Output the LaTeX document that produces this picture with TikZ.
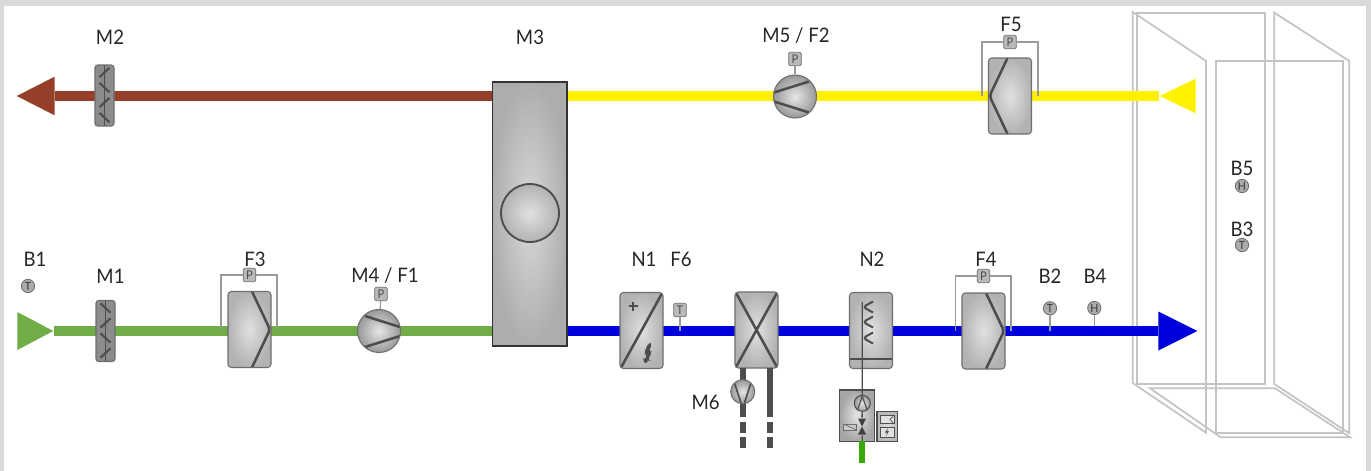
\documentclass[tikz,border=0pt]{standalone}
\usepackage{fontspec}
\setmainfont{Lato}[FakeStretch=0.93]
\usetikzlibrary{positioning, calc, backgrounds, shapes.geometric}

\definecolor{framegray}{HTML}{D9DADC}
\definecolor{roomgray}{HTML}{C4C4C4}
\definecolor{strokegray}{HTML}{4D4D4D}
\definecolor{edgegray}{HTML}{6E6E6E}
\definecolor{sensgray}{HTML}{9A9A9A}
\definecolor{exhaustred}{HTML}{953F2A}
\definecolor{intakegreen}{HTML}{70AD47}
\definecolor{extractyellow}{HTML}{FFF200}
\definecolor{supplyblue}{HTML}{0000DD}
\definecolor{watergreen}{HTML}{39A800}

\tikzset{
    lbl/.style={font=\fontsize{15}{15}\selectfont, text=black!85, inner sep=0pt},
    duct/.style={line width=7.5pt},
    room/.style={draw=roomgray, line width=1.3pt},
    sens/.style={draw=sensgray, line width=0.9pt},
    glyph/.style={draw=strokegray, line width=1.9pt},
    unit/.style={draw=edgegray, line width=0.8pt, rounded corners=2.5pt, inner sep=0pt,
        minimum width=32.25pt, minimum height=57pt,
        inner color=black!12, outer color=black!30},
    filterR/.style={unit, path picture={
        \draw[glyph, shift={(path picture bounding box.center)}] (2.5,-38) -- (20.5,0) -- (2.5,38);}},
    filterL/.style={unit, path picture={
        \draw[glyph, shift={(path picture bounding box.center)}] (-2.5,-38) -- (-20.5,0) -- (-2.5,38);}},
    arrowhd/.style={isosceles triangle, isosceles triangle stretches, inner sep=0pt,
        anchor=apex, minimum width=29pt, minimum height=28pt},
    fanbody/.style={circle, draw=edgegray, line width=0.8pt, inner sep=0pt, minimum size=32.25pt,
        inner color=black!10, outer color=black!40},
    fanR/.style={fanbody, path picture={
        \draw[glyph, shift={(path picture bounding box.center)}] (-14,-15) -- (21,-4) (-14,16) -- (21,5);}},
    fanL/.style={fanbody, path picture={
        \draw[glyph, shift={(path picture bounding box.center)}] (14,-15) -- (-21,-4) (14,16) -- (-21,5);}},
    damper/.style={draw=edgegray, line width=0.8pt, rounded corners=2pt, inner sep=0pt,
        minimum width=14.25pt, minimum height=45.75pt,
        left color=black!45, middle color=black!22, right color=black!45,
        path picture={
        \draw[draw=strokegray, line width=0.6pt, shift={(path picture bounding box.center)}] (0,-31) -- (0,31);
        \foreach \bladey/\bladesign in {-23/1,-8/-1,7/1,22/-1}
            \draw[draw=strokegray, line width=1.6pt, shift={(path picture bounding box.center)}]
            (-5,{\bladey+4.7*#1*\bladesign}) -- (5,{\bladey-4.7*#1*\bladesign});}},
    pbox/.style={draw=edgegray, line width=0.6pt, rounded corners=1pt, fill=black!27, inner sep=0pt,
        minimum width=9.5pt, minimum height=10pt, font=\fontsize{9}{9}\selectfont, text=black!70},
    sball/.style={circle, draw=edgegray, line width=0.6pt, fill=black!33, inner sep=0pt,
        minimum size=10pt, font=\fontsize{8.5}{8.5}\selectfont, text=black!80},
    pipe/.style={draw=strokegray, line width=4.5pt},
}

\begin{document}
\begin{tikzpicture}[x=0.75pt,y=-0.75pt]
    \useasboundingbox (0,0) rectangle (1371,471);

    \node[arrowhd, fill=exhaustred, shape border rotate=180, minimum width=29pt, minimum height=28.5pt] (exh) at (16,96) {};
    \node[arrowhd, fill=intakegreen, minimum width=28.5pt, minimum height=27pt] (ink) at (54,331) {};
    \node[arrowhd, fill=extractyellow, shape border rotate=180, minimum width=26pt, minimum height=27pt] (ext) at (1159,96) {};
    \node[arrowhd, fill=supplyblue, minimum width=29.25pt, minimum height=29.25pt] (sup) at (1198,331) {};

    \node[draw=black!80, line width=1pt, inner sep=0pt, minimum width=56pt, minimum height=198pt,
        inner color=black!15, outer color=black!32] (m3) at (529.5,214) {};
    \node[circle, draw=strokegray, line width=1.4pt, inner sep=0pt, minimum size=43.5pt,
        inner color=black!12, outer color=black!30] (wheel) at (530,213) {};

    \node[damper=1] (m2) at (104.5,95.5) {};
    \node[damper=-1] (m1) at (105.5,331) {};

    \node[filterR] (f3) at (249.5,329.5) {};
    \node[filterL] (f5) at (1010,96) {};
    \node[filterR] (f4) at (983.5,331) {};
    \node[fanR] (m4) at (379,331) {};
    \node[fanL] (m5) at (795,96.5) {};

    \node[unit, path picture={
        \draw[glyph, shift={(path picture bounding box.center)}] (21,-38) -- (-21,38);
        \draw[draw=strokegray, line width=1.5pt, shift={(path picture bounding box.center)}] (-13,-24.5) -- (-3.5,-24.5) (-8.3,-29) -- (-8.3,-20);
        \fill[strokegray, shift={(path picture bounding box.center)}] (7,12) -- (2,24) -- (6,24) -- (3,30) -- (1,28) -- (3,34) -- (8,30) -- (6,30) -- (11,21) -- (7,21) -- (11,13) -- cycle;}] (n1) at (641.5,330.5) {};
    \node[unit, path picture={
        \draw[glyph, shift={(path picture bounding box.center)}] (-21,-38) -- (21,38) (21,-38) -- (-21,38);}] (coil) at (756.5,330) {};
    \node[unit, path picture={
        \draw[glyph, shift={(path picture bounding box.center)}] (-21,28.5) -- (21,28.5);
        \draw[draw=strokegray, line width=1.5pt, shift={(path picture bounding box.center)}]
            (2,-29) -- (-8,-23.5) -- (2,-18) (2,-14) -- (-8,-8.5) -- (2,-3) (2,2) -- (-8,7.5) -- (2,13);}] (n2) at (871,330.5) {};

    \node[pbox] (pF3) at (249.5,275) {P};
    \node[pbox] (pM4) at (381,294) {P};
    \node[pbox] (pM5) at (795,59) {P};
    \node[pbox] (pF5) at (1010,42) {P};
    \node[pbox] (pF4) at (983.5,276) {P};
    \node[pbox] (tF6) at (680,310) {T};
    \node[sball] (sB1) at (28,286) {T};
    \node[sball] (sB2) at (1050,308.3) {T};
    \node[sball] (sB4) at (1094.3,308) {H};
    \node[sball] (sB5) at (1242,186) {H};
    \node[sball] (sB3) at (1242,245) {T};

    \coordinate (f3l) at (221,329);
    \coordinate (f3r) at (277,329);
    \coordinate (f5l) at (982,96);
    \coordinate (f5r) at (1038,96);
    \coordinate (f4l) at (955.7,331);
    \coordinate (f4r) at (1011,331);
    \coordinate (f6d) at (680,331);
    \coordinate (b2d) at (1050,331);
    \coordinate (b4d) at (1094.3,326);
    \coordinate (rail) at (862.3,302);
    \coordinate (pipeA) at (742.7,368);
    \coordinate (pipeAe) at (742.7,417);
    \coordinate (pipeB) at (769.7,368);
    \coordinate (pipeBe) at (769.7,417);
    \coordinate (pipeAd) at (742.7,449);
    \coordinate (pipeBd) at (769.7,449);
    \coordinate (pipeAs) at (742.7,421.7);
    \coordinate (pipeBs) at (769.7,421.7);

    \draw[sens] (f3l) |- (pF3.west) (pF3.east) -| (f3r);
    \draw[sens] (f5l) |- (pF5.west) (pF5.east) -| (f5r);
    \draw[sens] (f4l) |- (pF4.west) (pF4.east) -| (f4r);
    \draw[sens] (pM4) -- (m4);
    \draw[sens] (pM5) -- (m5);
    \draw[sens] (tF6) -- (f6d);
    \draw[sens] (sB2) -- (b2d);
    \draw[sens] (sB4) -- (b4d);

    \draw[pipe] (pipeA) -- (pipeAe);
    \draw[pipe] (pipeB) -- (pipeBe);
    \draw[pipe, dash pattern=on 8.2pt off 3.3pt] (pipeAs) -- (pipeAd);
    \draw[pipe, dash pattern=on 8.2pt off 3.3pt] (pipeBs) -- (pipeBd);
    \node[fanbody, minimum size=18pt, path picture={
        \draw[draw=strokegray, line width=1.2pt, shift={(path picture bounding box.center)}] (-8,-8) -- (-1.5,12) (8,-8) -- (1.5,12);}] (m6) at (742.7,391.7) {};

    \node[draw=strokegray, line width=0.9pt, inner sep=0pt, minimum width=26pt, minimum height=38.5pt,
        inner color=black!10, outer color=black!35] (pumpset) at (857,415.6) {};
    \node[fanbody, draw=strokegray, minimum size=12pt, path picture={
        \draw[draw=strokegray, line width=0.8pt, shift={(path picture bounding box.center)}] (-5,7) -- (0,-7) -- (5,7);}] (pump) at (862.3,403.3) {};
    \node[inner sep=0pt, minimum width=9pt, minimum height=13pt, path picture={
        \fill[black!75, shift={(path picture bounding box.center)}] (-4,-8) -- (4,-8) -- (0,0) -- (4,8) -- (-4,8) -- (0,0) -- cycle;}] (valve) at (862,426.5) {};
    \node[draw=edgegray, line width=0.5pt, fill=black!20, inner sep=0pt, minimum width=10pt, minimum height=4.5pt, path picture={
        \draw[draw=strokegray, line width=0.4pt] (path picture bounding box.north west) -- (path picture bounding box.south east);}] (act) at (850,427) {};
    \coordinate (pumpsetS) at (862.3,441.3);
    \coordinate (waterE) at (862.3,463);

    \node[draw=strokegray, line width=0.9pt, inner sep=0pt, minimum width=15.5pt, minimum height=22pt,
        inner color=black!12, outer color=black!28] (ctrl) at (887.3,426.5) {};
    \node[draw=strokegray, line width=0.6pt, inner sep=0pt, minimum width=10.5pt, minimum height=6.5pt, fill=black!12, path picture={
        \draw[draw=strokegray, line width=0.5pt] (path picture bounding box.north east) -- ++(-3pt,-3.2pt) -- (path picture bounding box.south east);}] (ctrlA) at (887,419.5) {};
    \node[draw=strokegray, line width=0.6pt, inner sep=0pt, minimum width=10.5pt, minimum height=7.5pt, fill=black!12, path picture={
        \fill[strokegray, shift={(path picture bounding box.center)}] (1,-4) -- (-2,0.5) -- (0,0.5) -- (-1,4) -- (2,-1) -- (0,-1) -- cycle;}] (ctrlB) at (887,432) {};

    \draw[strokegray, line width=1pt] (rail) -- (pump) -- (valve) -- (pumpsetS);
    \draw[strokegray, line width=0.7pt] (act) -- (valve);

    \node[lbl] (tM2) at (110,37) {M2};
    \node[lbl] (tM3) at (530,37) {M3};
    \node[lbl] (tM5) at (796,36) {M5 / F2};
    \node[lbl] (tF5) at (1011,24) {F5};
    \node[lbl] (tB1) at (35,259) {B1};
    \node[lbl] (tM1) at (110.5,276) {M1};
    \node[lbl] (tF3) at (255,259) {F3};
    \node[lbl] (tM4) at (385,276) {M4 / F1};
    \node[lbl] (tN1) at (644,259) {N1};
    \node[lbl] (tF6) at (681,259) {F6};
    \node[lbl] (tN2) at (872,259) {N2};
    \node[lbl] (tF4) at (986,259) {F4};
    \node[lbl] (tB2) at (1050,276) {B2};
    \node[lbl] (tB4) at (1095,276) {B4};
    \node[lbl] (tM6) at (705.7,402) {M6};
    \node[lbl] (tB5) at (1242,168) {B5};
    \node[lbl] (tB3) at (1242,229) {B3};

    \begin{scope}[on background layer]
    \fill[framegray] (0,0) rectangle (1371,471);
    \fill[white] (4,6) rectangle (1366,471);
    \draw[room] (1137.3,12.7) rectangle (1265.3,384);
    \draw[room] (1132.7,12) -- (1206,61) -- (1206,432.7) -- (1132.7,383) -- cycle;
    \draw[room] (1216,61) rectangle (1343,432.7);
    \draw[room] (1274.3,12.7) -- (1349.3,61) -- (1349.3,433.3) -- (1274.3,384) -- cycle;
    \draw[room] (1150,388.3) -- (1275,388.3) -- (1350,437.3) -- (1220.7,437.3) -- cycle;
    \draw[duct, draw=exhaustred] (exh.lower side) -- (exh.lower side -| m3.west);
    \draw[duct, draw=intakegreen] (ink.apex) -- (ink.apex -| m3.west);
    \draw[duct, draw=extractyellow] (ext.apex -| m3.east) -- (ext.apex);
    \draw[duct, draw=supplyblue] (sup.lower side -| m3.east) -- (sup.lower side);
    \end{scope}
    \draw[line width=4.5pt, draw=watergreen] (pumpsetS) -- (waterE);
\end{tikzpicture}
\end{document}
